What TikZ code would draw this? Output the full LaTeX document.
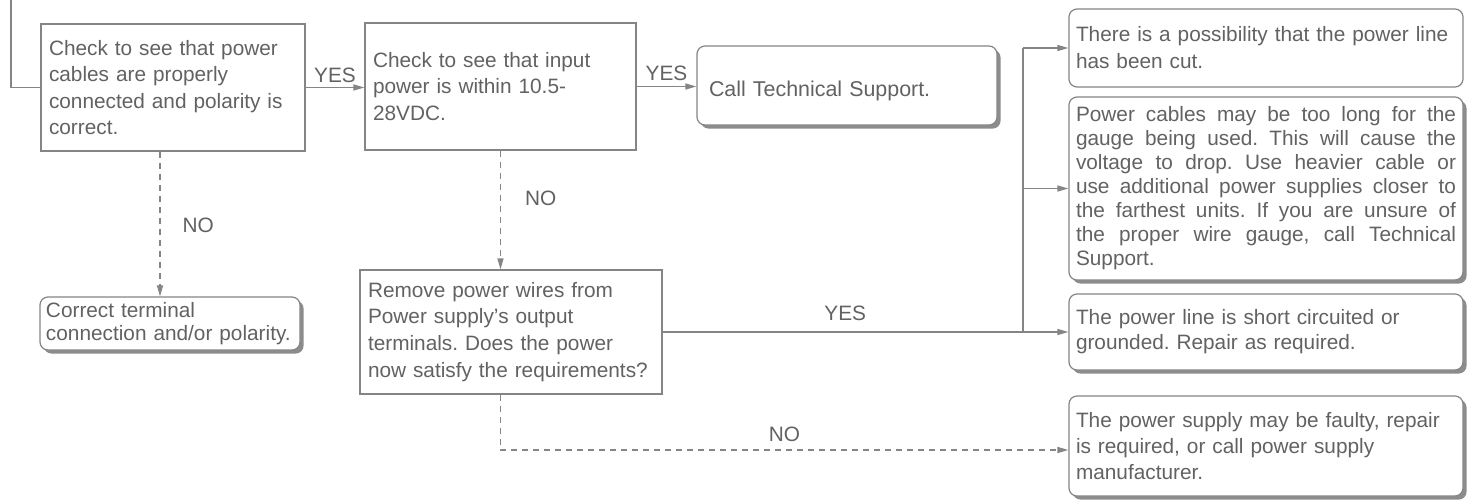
\documentclass[tikz,border=0pt]{standalone}
\usepackage{fontspec}
\setmainfont{Liberation Sans}
\usetikzlibrary{arrows.meta,shadows,calc}
\definecolor{txt}{HTML}{626262}
\definecolor{ln}{HTML}{858585}
\definecolor{shd}{HTML}{8C8C8C}
\newcommand\jline[1]{\leavevmode\hbox to 190pt{\spaceskip=0.278em plus 1em minus 0.1em\relax #1}}
\begin{document}
\frenchspacing
\begin{tikzpicture}[x=0.5pt,y=-0.5pt,
  every node/.style={text=txt},
  conn/.style={draw=ln, line width=0.7pt},
  arr/.style={conn, -{Triangle[length=5.5pt,width=3pt]}},
  dsh/.style={dash pattern=on 3pt off 2.5pt},
  sqbox/.style={draw=ln, fill=white, line width=0.6pt, rectangle, inner xsep=4pt, inner ysep=0pt, align=left},
  rbox/.style={draw=ln, fill=white, line width=0.6pt, rectangle, rounded corners=4pt, inner xsep=3.5pt, inner ysep=0pt, align=left},
  shbox/.style={rbox, drop shadow={shadow xshift=1.8pt, shadow yshift=-1.8pt, fill=shd, opacity=1}},
  lbl/.style={font=\fontsize{10.4}{12}\selectfont, inner sep=1pt},
  fa/.style={font=\fontsize{10.4}{13.2}\selectfont},
  fc/.style={font=\fontsize{10.4}{13.4}\selectfont},
]
\path[fill=white] (0,0) rectangle (1474,499);
\useasboundingbox (0,0) rectangle (1474,499);

% left column
\node[sqbox, fa, text width=124pt, minimum height=63.5pt] (A) at (173,87.5)
  {Check to see that power\\cables are properly\\connected and polarity is\\correct.};
\node[shbox, font=\fontsize{10.4}{11.6}\selectfont, inner xsep=3pt, text width=124pt, minimum height=26.5pt] (Corr) at (170,323.5)
  {Correct terminal\\connection and/or polarity.};

% middle column
\node[sqbox, fa, text width=127.5pt, minimum height=63.5pt] (B) at (500.5,86.5)
  {Check to see that input\\power is within 10.5-\\28VDC.};
\node[sqbox, fc, text width=143pt, minimum height=62pt] (C) at (511,332)
  {Remove power wires from\\Power supply's output\\terminals. Does the power\\now satisfy the requirements?};
\node[shbox, font=\fontsize{10.7}{13.2}\selectfont, inner xsep=6pt, text width=138pt, minimum height=39.5pt] (Call) at (847,85.5)
  {\rule{0pt}{13.5pt}Call Technical Support.};

% right column
\node[rbox, font=\fontsize{10.4}{13.5}\selectfont, text width=190pt, minimum height=39pt] (R1) at (1266,48)
  {There is a possibility that the power line\\has been cut.};
\node[shbox, font=\fontsize{10.4}{12}\selectfont, text width=190pt, minimum height=91.5pt] (R2) at (1266,188.5)
  {\jline{Power cables may be too long for the}\\
   \jline{gauge being used. This will cause the}\\
   \jline{voltage to drop. Use heavier cable or}\\
   \jline{use additional power supplies closer to}\\
   \jline{the farthest units. If you are unsure of}\\
   \jline{the proper wire gauge, call Technical}\\
   Support.};
\node[shbox, font=\fontsize{10.4}{12.5}\selectfont, text width=190pt, minimum height=38pt] (R3) at (1266,332)
  {The power line is short circuited or\\grounded. Repair as required.};
\node[shbox, font=\fontsize{10.4}{13}\selectfont, text width=190pt, minimum height=50pt] (R4) at (1266,446)
  {The power supply may be faulty, repair\\is required, or call power supply\\manufacturer.};

% connectors
\coordinate (entry) at (11,0);
\coordinate (jn) at (1023,0);
\draw[conn] (entry) |- (A.west);
\draw[arr] (A.east) -- (A.east -| B.west) node[lbl, midway, above=1pt] {YES};
\draw[arr] (B.east) -- (B.east -| Call.west) node[lbl, midway, above=1.5pt] {YES};
\draw[arr, dsh] ([xshift=-6.5pt]A.south) -- ([xshift=-6.5pt]A.south |- Corr.north)
  node[lbl, pos=0.51, right=10pt] {NO};
\draw[arr, dsh] (B.south) -- (B.south |- C.north)
  node[lbl, pos=0.4, right=11pt] {NO};
\draw[arr] (C.east) -- (C.east -| R3.west) node[lbl, pos=0.45, above=4.5pt] {YES};
\draw[conn] (jn |- C.east) -- (jn |- R1.west);
\draw[arr] (jn |- R1.west) -- (R1.west);
\draw[arr] (jn |- R2.west) -- (R2.west);
\draw[arr, dsh] (C.south -| B.south) |- ([yshift=-2pt]R4.west)
  node[lbl, pos=0.75, above=3pt] {NO};
\end{tikzpicture}
\end{document}
